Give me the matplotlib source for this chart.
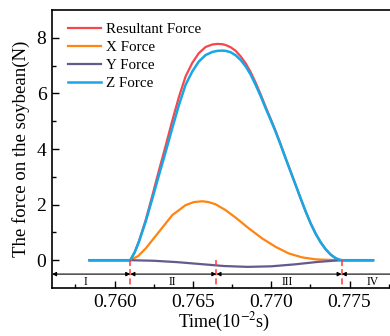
import matplotlib
matplotlib.use("Agg")
import matplotlib.pyplot as plt

plt.rcParams['font.family'] = ['Liberation Serif', 'DejaVu Serif']
plt.rcParams['mathtext.fontset'] = 'stix'

# values
time_z = [0.7584, 0.76100, 0.76128, 0.76155, 0.76198, 0.76241, 0.76283, 0.76326,
          0.76368, 0.76411, 0.76453, 0.76496, 0.76538, 0.76581, 0.76624, 0.76656,
          0.76688, 0.76709, 0.76741, 0.76773, 0.76805, 0.76837, 0.76869, 0.76900,
          0.76932, 0.76964, 0.76996, 0.77028, 0.77060, 0.77092, 0.77124, 0.77156,
          0.77188, 0.77220, 0.77252, 0.77284, 0.77316, 0.77348, 0.77380, 0.77412,
          0.77440, 0.77456, 0.7765]
z_force = [0, 0, 0.28, 0.66, 1.38, 2.22, 3.06, 3.90, 4.75, 5.59, 6.31, 6.79, 7.15,
           7.38, 7.49, 7.53, 7.54, 7.53, 7.48, 7.37, 7.20, 6.97, 6.67, 6.31, 5.91,
           5.47, 5.05, 4.62, 4.15, 3.66, 3.18, 2.70, 2.22, 1.75, 1.32, 0.95, 0.64,
           0.39, 0.20, 0.07, 0.01, 0, 0]
resultant = [0, 0, 0.29, 0.68, 1.44, 2.33, 3.23, 4.12, 5.02, 5.88, 6.61, 7.10, 7.45,
             7.67, 7.76, 7.78, 7.77, 7.74, 7.66, 7.53, 7.33, 7.08, 6.76, 6.39, 5.97,
             5.52, 5.09, 4.65, 4.17, 3.67, 3.19, 2.71, 2.22, 1.75, 1.32, 0.95, 0.64,
             0.39, 0.20, 0.07, 0.01, 0, 0]

time_x = [0.7584, 0.76100, 0.76150, 0.76198, 0.76283, 0.76368, 0.76453, 0.76505,
          0.76560, 0.76600, 0.76645, 0.76709, 0.76773, 0.76858, 0.76943, 0.77028,
          0.77113, 0.77199, 0.77284, 0.77430, 0.7765]
x_force = [0, 0, 0.15, 0.42, 1.02, 1.62, 1.98, 2.09, 2.12, 2.09, 2.01, 1.80, 1.53,
           1.14, 0.78, 0.48, 0.24, 0.10, 0.03, 0, 0]

time_y = [0.7584, 0.76100, 0.7625, 0.7640, 0.7655, 0.7670, 0.7685, 0.7700, 0.7715,
          0.7730, 0.77443, 0.7765]
y_force = [0, 0, -0.02, -0.07, -0.14, -0.21, -0.24, -0.22, -0.15, -0.06, 0, 0]

# stage boundaries and labels
bounds = [0.756, 0.76100, 0.7665, 0.7745, 0.778]
stages = ['I', 'II', 'III', 'IV']
stage_x = [0.75815, 0.7637, 0.7710, 0.7765]

fig = plt.figure(figsize=(3.9, 3.36), dpi=100)
ax = fig.add_axes([52/390, 48/336, 344.5/390, 278/336])

ax.plot(time_z, resultant, color='#f5474c', lw=1.6, label='Resultant Force')
ax.plot(time_x, x_force, color='#ff8410', lw=1.6, label='X Force')
ax.plot(time_y, y_force, color='#66598c', lw=1.6, label='Y Force')
ax.plot(time_z, z_force, color='#16a8e6', lw=1.8, label='Z Force')

for b in bounds[1:-1]:
    ax.plot([b, b], [0, -1], color='#ff3b3b', lw=1.1, ls=(0, (4, 2)))

for i in range(len(stages)):
    ax.annotate('', xy=(bounds[i], -0.5), xytext=(bounds[i+1], -0.5),
                arrowprops=dict(arrowstyle='<|-|>', color='black', lw=0.8,
                                mutation_scale=6, shrinkA=0, shrinkB=0))
    ax.text(stage_x[i], -0.8, stages[i], ha='center', va='center', fontsize=8.5)

ax.set_xlim(0.756, 0.778)
ax.set_ylim(-1, 9)
ax.set_xticks([0.760, 0.765, 0.770, 0.775])
ax.set_xticklabels(['0.760', '0.765', '0.770', '0.775'])
ax.set_xticks([0.7575, 0.7625, 0.7675, 0.7725, 0.7775], minor=True)
ax.set_yticks([0, 2, 4, 6, 8])
ax.set_yticks([1, 3, 5, 7], minor=True)
ax.tick_params(which='both', direction='in', labelsize=14, width=1)
ax.tick_params(which='major', length=5, pad=4)
ax.tick_params(which='minor', length=3)
for s in ax.spines.values():
    s.set_linewidth(1.2)

ax.set_xlabel('Time(10$^{-2}$s)', fontsize=13, labelpad=0)
ax.set_ylabel('The force on the soybean(N)', fontsize=13.5, labelpad=5)

ax.legend(loc='upper left', bbox_to_anchor=(0.046, 0.955), frameon=False,
          fontsize=10.8, handlelength=2.2, handletextpad=0.35, labelspacing=0.3,
          borderpad=0, borderaxespad=0)

fig.savefig('out.png', dpi=100)
